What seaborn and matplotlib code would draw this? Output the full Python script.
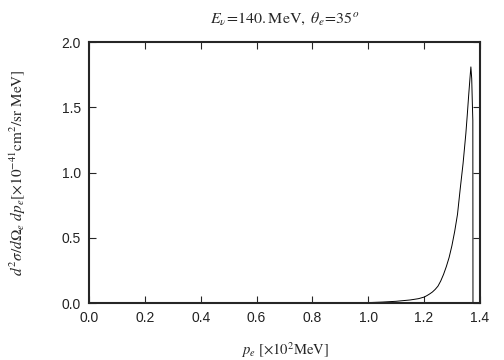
import numpy as np
import pandas as pd
import matplotlib
matplotlib.use("Agg")
import matplotlib.pyplot as plt
import seaborn as sns

# curve (p_e in 10^2 MeV, cross section in 1e-41 cm^2/sr MeV)
p_e = [0.0, 0.90, 0.95, 1.00, 1.05, 1.10, 1.15, 1.18, 1.20, 1.21, 1.22, 1.23,
       1.24, 1.25, 1.26, 1.27, 1.28, 1.29, 1.30, 1.31, 1.32, 1.33, 1.34, 1.35,
       1.355, 1.36, 1.365, 1.368, 1.371, 1.373, 1.375, 1.3755, 1.40]
xsec = [0.0, 0.0, 0.001, 0.004, 0.008, 0.014, 0.024, 0.034, 0.046, 0.057, 0.070, 0.085,
        0.105, 0.13, 0.17, 0.22, 0.28, 0.35, 0.44, 0.55, 0.68, 0.88, 1.07, 1.30,
        1.44, 1.59, 1.73, 1.81, 1.72, 1.55, 1.40, 0.0, 0.0]

x_ticks = [0.0, 0.2, 0.4, 0.6, 0.8, 1.0, 1.2, 1.4]
y_ticks = [0.0, 0.5, 1.0, 1.5, 2.0]

df = pd.DataFrame({"p": p_e, "xs": xsec})

sns.set_style("ticks")
plt.rcParams['font.family'] = ['Liberation Sans', 'DejaVu Sans']
plt.rcParams['mathtext.fontset'] = 'stix'

fig = plt.figure(figsize=(5.04, 3.6), dpi=100)
ax = fig.add_axes([0.177, 0.158, 0.775, 0.725])

sns.lineplot(data=df, x="p", y="xs", ax=ax, color="black", linewidth=0.7,
             estimator=None, sort=False)

ax.set_xlim(0, 1.4)
ax.set_ylim(0, 2.0)
ax.set_xticks(x_ticks)
ax.set_yticks(y_ticks)
ax.set_xticklabels([f"{v:.1f}" for v in x_ticks])
ax.set_yticklabels([f"{v:.1f}" for v in y_ticks])
ax.tick_params(direction="in", top=True, right=True, length=5, width=0.8,
               labelsize=10, pad=6, labelcolor="#222222")
for s in ax.spines.values():
    s.set_linewidth(1.5)

ax.set_xlabel(r"$p_e\ [\times 10^2 \mathrm{MeV}]$", fontsize=10.5, labelpad=11)
ax.set_ylabel(r"$d^2\sigma/d\Omega_e\ dp_e [\times 10^{-41} \mathrm{cm}^2/\mathrm{sr\ MeV}]$",
              fontsize=11, labelpad=24)
ax.set_title(r"$E_\nu\!=\!140.\mathrm{MeV},\ \theta_e\!=\!35^o$", fontsize=11.5, pad=14)

fig.savefig("out.png", dpi=100)
